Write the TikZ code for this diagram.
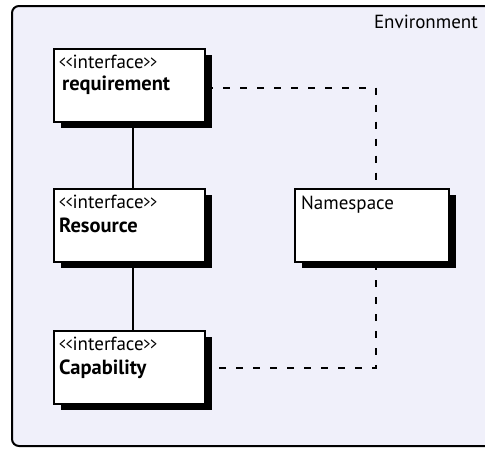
\documentclass[tikz,border=0pt]{standalone}
\usepackage{fontspec}
\setmainfont{PT Sans}
\usetikzlibrary{shadows,calc}
\definecolor{envfill}{RGB}{240,240,250}
\tikzset{
  umlbox/.style={draw=black, line width=2pt, fill=white, anchor=north west,
    minimum width=151pt, minimum height=73pt, inner sep=0pt,
    drop shadow={shadow xshift=7pt, shadow yshift=-6pt, fill=black, opacity=1}},
  boxtext/.style={anchor=base west, inner sep=0pt, font=\fontsize{19}{22}\selectfont},
  boldtext/.style={anchor=base west, inner sep=0pt, font=\fontsize{20.5}{24}\selectfont\bfseries},
  solidlink/.style={draw=black, line width=2pt},
  dashlink/.style={draw=black, line width=2pt, dash pattern=on 7pt off 10pt}
}
\newcommand{\nlt}{\scalebox{0.7}[1]{<}}
\newcommand{\ngt}{\scalebox{0.7}[1]{>}}
\newcommand{\stereo}{\nlt\nlt interface\ngt\ngt}
\begin{document}
\begin{tikzpicture}[x=1pt, y=-1pt]
\useasboundingbox (0,0) rectangle (485,448);
\begin{scope}
\clip (0,0) rectangle (485,448);
\draw[line width=2pt, fill=envfill, rounded corners=7pt] (12,6) rectangle (520,446);
\end{scope}
\node[boxtext, anchor=base east] (envlabel) at (478,28) {Environment};

\node[umlbox] (req) at (53,48) {};
\node[umlbox] (res) at (53,188) {};
\node[umlbox] (cap) at (53,330) {};
\node[umlbox, minimum width=154pt] (ns) at (294,188) {};

\node[boxtext] (reqst) at (59,68) {\stereo};
\node[boldtext] (reqnm) at (62,90) {requirement};
\node[boxtext] (resst) at (59,208) {\stereo};
\node[boldtext] (resnm) at (59,232) {Resource};
\node[boxtext] (capst) at (59,350) {\stereo};
\node[boldtext] (capnm) at (59,374) {Capability};
\node[boxtext] (nsnm) at (301,209) {Namespace};

\draw[solidlink] ([xshift=3pt]req.south) -- ([xshift=3pt]res.north);
\draw[solidlink] ([xshift=3pt]res.south) -- ([xshift=3pt]cap.north);
\draw[dashlink] ([yshift=-2pt]req.east) -| ([xshift=4pt]ns.north);
\draw[dashlink] ([xshift=4pt]ns.south) |- (cap.east);
\end{tikzpicture}
\end{document}
